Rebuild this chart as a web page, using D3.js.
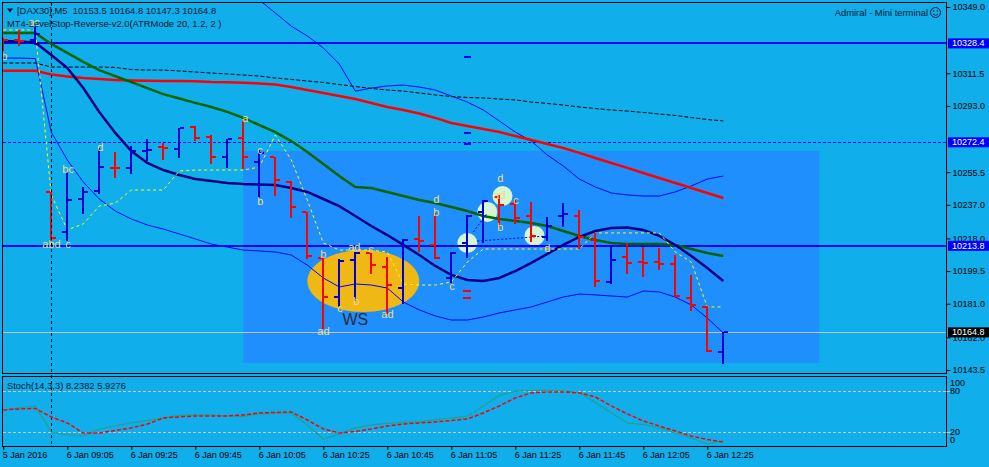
<!DOCTYPE html>
<html><head><meta charset="utf-8">
<script src="https://cdn.jsdelivr.net/npm/d3@7"></script>
<style>html,body{margin:0;padding:0;background:#10aeeb;overflow:hidden}text{white-space:pre}</style>
</head><body><svg id="c" width="989" height="467" xmlns="http://www.w3.org/2000/svg"></svg>
<script>
// ---------- DATA ----------
const headerText = "[DAX30],M5  10153.5 10164.8 10147.3 10164.8";
const indicatorText = "MT4-LevelStop-Reverse-v2.0(ATRMode 20, 1.2, 2 )";
const stochText = "Stoch(14,3,3) 8.2382 5.9276";
const brandText = "Admiral - Mini terminal";

const xTickIdx = [0,4,8,12,16,20,24,28,32,36,40,44];
const xTickLabels = ["5 Jan 2016","6 Jan 09:05","6 Jan 09:25","6 Jan 09:45","6 Jan 10:05","6 Jan 10:25","6 Jan 10:45","6 Jan 11:05","6 Jan 11:25","6 Jan 11:45","6 Jan 12:05","6 Jan 12:25"];
const priceTicks = [10349.0,10311.5,10293.0,10255.5,10237.0,10218.0,10199.5,10181.0,10162.0,10143.5];
const tagValues = [10328.4,10272.4,10213.8,10164.8];
const stochTicks = [100,80,20,0];
const stochLevels = [80,20];

const openP  = [10331.0,10330.3,10330.3,10244.3,10221.6,10240.3,10244.8,10258.1,10257.9,10267.6,10269.8,10268.6,10281.1,10275.4,10264.1,10274.8,10261.3,10264.1,10249.9,10233.0,10206.9,10184.8,10205.8,10209.7,10201.8,10189.9,10217.4,10214.3,10195.6,10215.4,10233.0,10241.4,10237.5,10230.7,10218.8,10230.7,10230.7,10217.1,10193.3,10207.5,10204.6,10204.6,10203.5,10184.3,10179.2,10153.5];
const highP  = [10331.4,10336.0,10337.7,10244.3,10255.6,10247.1,10269.2,10266.9,10270.3,10274.3,10272.0,10280.5,10281.6,10276.5,10274.3,10285.0,10268.0,10264.1,10250.5,10233.0,10207.5,10206.3,10210.3,10210.3,10207.5,10217.7,10230.7,10232.4,10210.3,10231.3,10239.7,10242.6,10239.7,10238.6,10230.1,10238.0,10234.1,10221.1,10213.1,10215.4,10213.1,10212.6,10208.6,10197.3,10179.7,10164.8];
const lowP   = [10324.7,10327.5,10328.1,10217.1,10217.1,10232.4,10243.7,10252.8,10255.0,10262.4,10263.0,10264.1,10273.7,10260.7,10258.4,10257.9,10241.4,10242.6,10230.1,10206.9,10167.3,10179.7,10183.1,10198.4,10175.8,10181.4,10210.9,10206.9,10193.3,10207.5,10216.0,10225.0,10226.7,10216.5,10217.1,10225.0,10212.6,10191.1,10192.8,10198.4,10196.7,10200.7,10185.4,10177.5,10154.3,10147.3];
const closeP = [10330.3,10330.0,10333.7,10218.2,10239.7,10244.3,10258.4,10257.9,10267.5,10268.3,10269.2,10280.5,10274.8,10264.1,10274.3,10264.1,10266.4,10251.1,10235.8,10208.0,10184.8,10205.2,10209.7,10202.9,10191.6,10217.1,10216.8,10206.9,10209.7,10230.7,10239.2,10236.9,10229.5,10219.4,10225.0,10231.8,10218.8,10193.9,10205.8,10204.1,10204.1,10203.5,10185.4,10180.3,10154.3,10164.8];

const maSlow = [10312.9,10312.9,10312.9,10310.8,10309.7,10308.8,10308.2,10307.7,10307.4,10307.3,10307.1,10307.1,10307.0,10306.5,10306.4,10306.1,10305.7,10305.1,10303.7,10302.0,10300.3,10298.6,10296.9,10294.7,10292.4,10290.7,10288.7,10286.2,10283.3,10281.6,10279.9,10278.2,10276.0,10273.7,10271.4,10269.2,10266.4,10263.5,10260.7,10257.9,10255.0,10252.2,10249.4,10246.5,10243.7,10240.9];
const maMid  = [10334.3,10334.3,10334.3,10328.1,10323.0,10317.9,10313.3,10309.9,10306.5,10303.1,10299.7,10297.2,10294.7,10292.4,10289.6,10286.2,10282.2,10278.2,10273.1,10266.9,10260.1,10253.3,10247.1,10246.5,10244.3,10242.0,10239.7,10238.0,10235.8,10233.5,10230.7,10229.0,10227.9,10226.7,10225.0,10222.2,10219.4,10217.1,10215.4,10214.8,10214.8,10214.8,10214.3,10212.0,10209.7,10208.0];
const maFast = [10329.8,10329.5,10328.9,10321.8,10314.5,10303.1,10289.6,10277.7,10267.5,10260.7,10256.7,10253.9,10251.6,10250.5,10249.4,10248.8,10248.5,10248.2,10246.5,10244.3,10240.3,10236.3,10230.7,10225.0,10219.9,10214.3,10208.6,10202.4,10197.3,10194.5,10193.9,10195.6,10199.5,10204.1,10209.2,10214.3,10218.8,10222.2,10223.9,10224.2,10222.8,10219.4,10214.3,10208.0,10201.2,10193.9];
const bandUpper = [null,null,null,null,null,null,null,null,null,null,null,null,null,null,null,10360.3,10353.0,10345.6,10338.2,10332.6,10325.8,10316.7,10301.4,10303.1,10304.3,10304.8,10303.7,10302.0,10298.6,10295.2,10290.7,10284.5,10278.2,10273.1,10265.2,10259.0,10251.6,10247.1,10243.7,10242.6,10242.0,10242.0,10244.3,10247.7,10251.6,10253.3];
const bandLower = [10320.1,10320.1,10319.8,10278.2,10262.4,10249.9,10240.3,10233.5,10229.0,10225.6,10223.3,10220.5,10217.7,10214.8,10213.1,10211.4,10210.9,10210.3,10208.6,10202.9,10195.6,10190.5,10192.2,10191.6,10189.9,10182.0,10177.5,10174.1,10171.8,10171.8,10173.5,10175.8,10177.5,10179.2,10182.0,10184.8,10186.5,10186.0,10185.4,10184.8,10188.2,10187.7,10184.8,10180.3,10172.9,10164.5];
const trendDotted = [10317.3,10317.3,10317.3,10315.0,10315.0,10315.0,10315.0,10314.8,10313.6,10313.3,10313.3,10312.8,10312.2,10311.6,10311.1,10310.5,10309.9,10308.8,10308.0,10307.1,10306.3,10305.1,10304.0,10302.9,10302.0,10301.4,10300.3,10299.2,10298.3,10297.8,10297.5,10296.9,10296.4,10295.2,10294.4,10293.5,10292.4,10291.5,10290.7,10290.1,10289.3,10288.4,10287.6,10286.4,10285.3,10284.5];
const levelStop = [10336.0,10336.0,10336.0,10242.6,10222.8,10226.2,10236.3,10238.0,10245.4,10245.4,10245.4,10256.2,10256.7,10256.7,10256.7,10256.7,10258.4,10276.5,10262.4,10239.7,10215.4,10211.4,10211.4,10211.4,10210.3,10192.2,10191.6,10191.6,10193.3,10204.6,10212.0,10212.0,10212.0,10212.0,10212.0,10212.0,10212.0,10221.1,10221.1,10221.1,10221.1,10221.1,10210.3,10204.6,10179.2,10179.2];

const stochMain = [52.2,55.1,58.0,20.5,16.2,14.7,24.8,29.2,33.5,37.1,40.7,44.3,45.0,45.0,43.6,42.9,46.5,47.9,47.9,30.6,10.4,17.6,26.3,30.6,32.8,34.2,35.6,37.8,40.7,42.9,58.0,73.2,78.9,80.4,80.4,79.7,77.5,62.9,48.2,33.5,31.3,26.3,19.0,11.8,3.2,8.2];
const stochSignal = [52.2,53.7,54.4,42.1,33.5,19.0,19.0,22.7,26.3,32.0,40.7,42.1,43.6,43.6,43.6,45.0,47.9,48.6,49.4,37.8,24.8,19.0,21.2,24.8,29.1,32.0,33.5,34.9,37.1,39.2,47.9,58.0,69.6,76.8,78.2,78.2,76.8,71.0,58.0,46.5,36.4,29.1,21.9,14.7,9.7,5.9];

// chart objects (bar index / price coordinates)
const daySeparatorIdx = 3;
const boxObj = {i0:15, i1:51, p0:10267.5, p1:10147.5};
const ellipseObj = {i0:19, i1:26, p0:10211.4, p1:10176.3};
const wsLabel = {t:"WS", i:21.2, p:10169.0};
const circleObjs = [{i:29,p:10215.4},{i:30.25,p:10233.0},{i:31.2,p:10242.0},{i:33.2,p:10219.4}];
const patternLines = [[{i:29.375,p:10221.6},{i:30.25,p:10232.4}],[{i:29.625,p:10216.5},{i:34,p:10219.4}]];
const blueMarks = [{i:29,p:10321.3},{i:29,p:10278.2},{i:29,p:10272.0}];
const redMarks = [{i:29,p:10188.8},{i:29,p:10184.8}];
const patternLabels = [
 {t:"b",i:-0.13,p:10319.0},{t:"ac",i:1.56,p:10338.2},
 {t:"abd",i:2.44,p:10212.6},{t:"c",i:3.875,p:10212.6},{t:"bc",i:3.69,p:10255.0},{t:"d",i:5.875,p:10267.5},
 {t:"a",i:14.94,p:10283.9},{t:"c",i:15.875,p:10265.8},{t:"b",i:15.875,p:10236.9},
 {t:"b",i:19.81,p:10206.9},{t:"ad",i:19.625,p:10163.3},{t:"ad",i:21.56,p:10210.9},{t:"c",i:22.81,p:10209.7},
 {t:"b",i:21.875,p:10180.3},{t:"c",i:20.875,p:10176.3},{t:"ad",i:23.625,p:10172.9},
 {t:"d",i:26.875,p:10238.0},{t:"b",i:26.875,p:10230.7},{t:"c",i:27.875,p:10188.8},
 {t:"d",i:30.875,p:10249.9},{t:"ad",i:30.625,p:10240.3},{t:"c",i:31.875,p:10237.5},{t:"b",i:30.875,p:10222.2},
 {t:"d",i:33.81,p:10210.3}
];

// ---------- DRAW ----------
const FONT = "'Liberation Sans', Arial, sans-serif";
const svg = d3.select('#c');
const PL=2.5, PR=946.5, MT=2.5, MB=373.5, ST=376.5, SB=446.5;
const x = d3.scaleLinear().domain([0,45]).range([3.3,723.3]);
const y = d3.scaleLinear().domain([10143.5,10349.0]).range([370,7]);
const ys = d3.scaleLinear().domain([0,100]).range([446.2,376.8]);

svg.append('rect').attr('width',989).attr('height',467).attr('fill','#10aeeb');
const defs = svg.append('defs');
defs.append('clipPath').attr('id','cm').append('rect').attr('x',PL).attr('y',MT).attr('width',PR-PL).attr('height',MB-MT);
defs.append('clipPath').attr('id','cs').append('rect').attr('x',PL).attr('y',ST).attr('width',PR-PL).attr('height',SB-ST);

const gm = svg.append('g').attr('clip-path','url(#cm)');
// background objects
gm.append('rect').attr('x',x(boxObj.i0)).attr('y',y(boxObj.p0))
  .attr('width',x(boxObj.i1)-x(boxObj.i0)).attr('height',y(boxObj.p1)-y(boxObj.p0)).attr('fill','#1e8ffd');
gm.append('ellipse').attr('cx',(x(ellipseObj.i0)+x(ellipseObj.i1))/2).attr('cy',(y(ellipseObj.p0)+y(ellipseObj.p1))/2)
  .attr('rx',(x(ellipseObj.i1)-x(ellipseObj.i0))/2).attr('ry',(y(ellipseObj.p1)-y(ellipseObj.p0))/2).attr('fill','#efb814');
gm.selectAll('circle.obj').data(circleObjs).join('circle').attr('class','obj')
  .attr('cx',d=>x(d.i)).attr('cy',d=>y(d.p)).attr('r',10).attr('fill','#d6f6cf');

// horizontal levels
const lv = gm.append('g').attr('shape-rendering','crispEdges');
tagValues.forEach((v,k)=>{
  const yy = Math.round(y(v));
  const l = lv.append('line').attr('x1',PL).attr('x2',PR).attr('y1',k==3?yy+0.5:yy).attr('y2',k==3?yy+0.5:yy);
  if(k===0||k===2) l.attr('stroke','#0000ff').attr('stroke-width',2);
  else if(k===1) l.attr('stroke','#0000ff').attr('stroke-width',1).attr('stroke-dasharray','3,2').attr('y1',yy+0.5).attr('y2',yy+0.5);
  else l.attr('stroke','#c0c0c0').attr('stroke-width',1);
});
// day separator
svg.append('line').attr('x1',Math.round(x(daySeparatorIdx))+0.5).attr('x2',Math.round(x(daySeparatorIdx))+0.5)
  .attr('y1',MT).attr('y2',SB).attr('stroke','#000').attr('stroke-dasharray','3,3').attr('shape-rendering','crispEdges');

const line = d3.line().defined(d=>d!=null).x((d,i)=>x(i)).y(d=>y(d));
function drawLine(arr,col,w,dash){
  const p = gm.append('path').attr('d',line(arr)).attr('fill','none').attr('stroke',col).attr('stroke-width',w);
  if(dash) p.attr('stroke-dasharray',dash);
}
drawLine(bandUpper,'#0000ff',1);
drawLine(bandLower,'#0000ff',1);
drawLine(trendDotted,'#000000',1,'4,2');
drawLine(maSlow,'#ff0000',2.5);
drawLine(maMid,'#006400',2.5);
drawLine(maFast,'#000080',2.5);
drawLine(levelStop,'#ffff00',1,'3,3');
const pl = d3.line().x(d=>x(d.i)).y(d=>y(d.p));
patternLines.forEach(a=>gm.append('path').attr('d',pl(a)).attr('fill','none').attr('stroke','#0000ff').attr('stroke-width',1).attr('stroke-dasharray','2,2'));

// bars
const UP='#0000d2', DN='#ff0000';
const gb = gm.append('g').attr('shape-rendering','crispEdges');
const bi = d3.range(openP.length);
const col = i=> closeP[i]>openP[i]?UP:DN;
gb.selectAll('rect.v').data(bi).join('rect').attr('class','v')
  .attr('x',i=>Math.round(x(i))-1).attr('y',i=>Math.round(y(highP[i])))
  .attr('width',2).attr('height',i=>Math.max(1,Math.round(y(lowP[i]))-Math.round(y(highP[i]))+1)).attr('fill',col);
gb.selectAll('rect.o').data(bi).join('rect').attr('class','o')
  .attr('x',i=>Math.round(x(i))-5).attr('y',i=>Math.round(y(openP[i]))-1).attr('width',4).attr('height',2).attr('fill',col);
gb.selectAll('rect.c').data(bi).join('rect').attr('class','c')
  .attr('x',i=>Math.round(x(i))+1).attr('y',i=>Math.round(y(closeP[i]))-1).attr('width',4).attr('height',2).attr('fill',col);

// small marks
gb.selectAll('rect.bm').data(blueMarks).join('rect').attr('class','bm')
  .attr('x',d=>Math.round(x(d.i))-3).attr('y',d=>Math.round(y(d.p))).attr('width',7).attr('height',1.5).attr('fill','#0000ff');
gb.selectAll('rect.rm').data(redMarks).join('rect').attr('class','rm')
  .attr('x',d=>Math.round(x(d.i))-4).attr('y',d=>Math.round(y(d.p))).attr('width',8).attr('height',1.5).attr('fill','#ff0000');

// labels
gm.selectAll('text.pl').data(patternLabels).join('text').attr('class','pl')
  .attr('x',d=>x(d.i)).attr('y',d=>y(d.p)).text(d=>d.t)
  .attr('font-family',FONT).attr('font-size',11).attr('fill','#eedd82');
gm.append('text').attr('x',x(wsLabel.i)).attr('y',y(wsLabel.p)).text(wsLabel.t)
  .attr('font-family',FONT).attr('font-size',16).attr('fill','#2a2a3a');

// header texts
const TXT='#0e1630';
svg.append('path').attr('d','M7,8.5 L13,8.5 L10,12.5 Z').attr('fill',TXT);
svg.append('text').attr('x',17).attr('y',14).text(headerText).attr('font-family',FONT).attr('font-size',9.4).attr('fill',TXT);
svg.append('text').attr('x',7).attr('y',26.6).text(indicatorText).attr('font-family',FONT).attr('font-size',9.4).attr('fill',TXT);
svg.append('text').attr('x',928).attr('y',16).attr('text-anchor','end').text(brandText).attr('font-family',FONT).attr('font-size',9.4).attr('fill',TXT);
svg.append('circle').attr('cx',935.5).attr('cy',12.5).attr('r',5).attr('fill','none').attr('stroke',TXT).attr('stroke-width',1);
svg.append('circle').attr('cx',933.6).attr('cy',11).attr('r',0.8).attr('fill',TXT);
svg.append('circle').attr('cx',937.4).attr('cy',11).attr('r',0.8).attr('fill',TXT);
svg.append('path').attr('d','M932.8,13.6 Q935.5,16.8 938.2,13.6').attr('fill','none').attr('stroke',TXT).attr('stroke-width',0.9);

// stochastic
const gs = svg.append('g').attr('clip-path','url(#cs)');
stochLevels.forEach(v=>gs.append('line').attr('x1',PL).attr('x2',PR).attr('y1',Math.round(ys(v))+0.5).attr('y2',Math.round(ys(v))+0.5)
  .attr('stroke','#c8c8c8').attr('stroke-dasharray','3,2').attr('shape-rendering','crispEdges'));
const sl = d3.line().x((d,i)=>x(i)).y(d=>ys(d));
gs.append('path').attr('d',sl(stochMain)).attr('fill','none').attr('stroke','#22a08e').attr('stroke-width',1.2);
gs.append('path').attr('d',sl(stochSignal)).attr('fill','none').attr('stroke','#ff0000').attr('stroke-width',1.5).attr('stroke-dasharray','4,2');
svg.append('text').attr('x',7).attr('y',388.5).text(stochText).attr('font-family',FONT).attr('font-size',9.4).attr('fill',TXT);

// frames
svg.append('rect').attr('x',PL).attr('y',MT).attr('width',PR-PL).attr('height',MB-MT).attr('fill','none').attr('stroke','#000').attr('shape-rendering','crispEdges');
svg.append('rect').attr('x',PL).attr('y',ST).attr('width',PR-PL).attr('height',SB-ST).attr('fill','none').attr('stroke','#000').attr('shape-rendering','crispEdges');

// price axis
const ay = svg.append('g').attr('transform',`translate(${PR},0)`)
  .call(d3.axisRight(y).tickValues(priceTicks).tickFormat(d3.format('.1f')).tickSize(4).tickPadding(2));
ay.select('.domain').remove();
ay.selectAll('text').attr('font-family',FONT).attr('font-size',9).attr('fill','#000');
ay.selectAll('line').attr('stroke','#000');
// price tags
tagValues.forEach((v,k)=>{
  const yy = y(v);
  svg.append('rect').attr('x',948).attr('y',yy-5).attr('width',41).attr('height',10).attr('fill',k==3?'#000000':'#0000ff');
  svg.append('text').attr('x',952).attr('y',yy).attr('dy','0.34em').text(d3.format('.1f')(v))
    .attr('font-family',FONT).attr('font-size',9).attr('fill','#ffffff');
});

// stoch axis
stochTicks.forEach(v=>{
  const yy = Math.min(440, Math.max(382.5, ys(v)));
  if(v===80||v===20) svg.append('line').attr('x1',PR).attr('x2',PR+4).attr('y1',Math.round(ys(v))+0.5).attr('y2',Math.round(ys(v))+0.5).attr('stroke','#c8c8c8');
  svg.append('text').attr('x',950).attr('y',yy).attr('dy','0.34em').text(v).attr('font-family',FONT).attr('font-size',9).attr('fill','#000');
});

// time axis
const ax = svg.append('g').attr('transform',`translate(0,${SB-0.5})`)
  .call(d3.axisBottom(x).tickValues(xTickIdx).tickFormat((d,i)=>xTickLabels[i]).tickSize(4).tickPadding(2));
ax.select('.domain').remove();
ax.selectAll('text').attr('text-anchor','start').attr('dx',-1).attr('font-family',FONT).attr('font-size',9).attr('fill','#000');
ax.selectAll('line').attr('stroke','#000');
</script>
</body></html>
